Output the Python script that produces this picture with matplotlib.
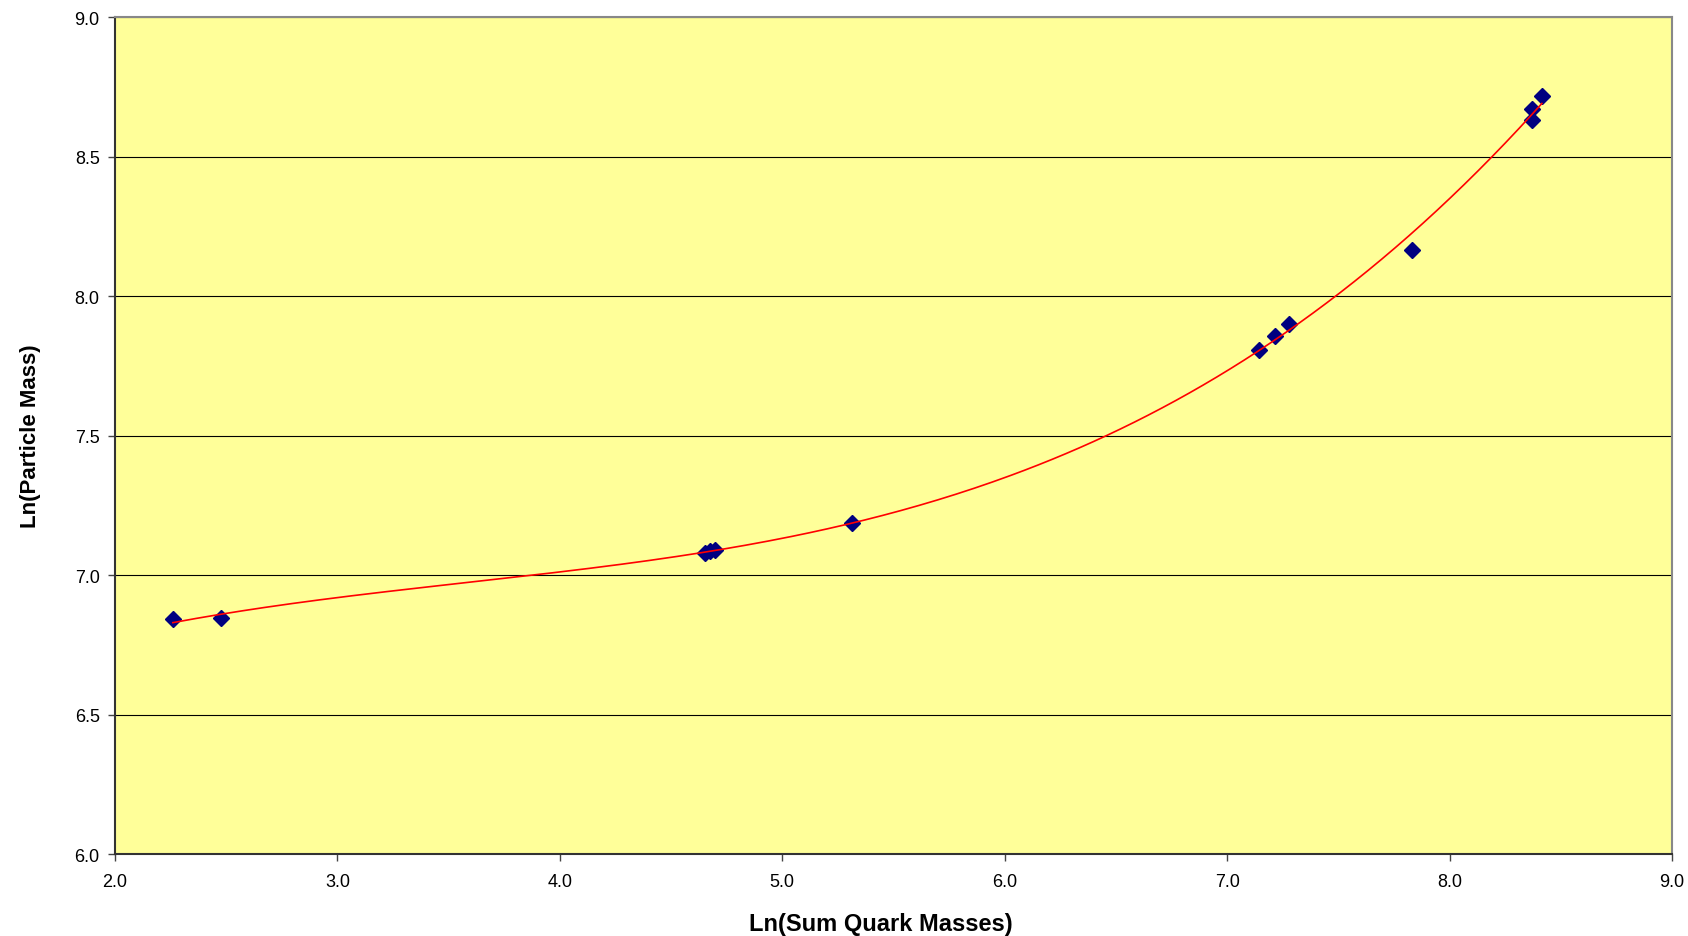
import matplotlib
matplotlib.use('Agg')
import matplotlib.pyplot as plt
import numpy as np

# ln(sum of quark masses) vs ln(particle mass)
ln_quark_sum = [2.26, 2.475, 4.653, 4.675, 4.698, 5.315, 7.141, 7.213, 7.280,
                7.829, 8.372, 8.372, 8.415]
ln_particle_mass = [6.842, 6.845, 7.079, 7.086, 7.090, 7.185, 7.806, 7.856, 7.900,
                    8.165, 8.632, 8.670, 8.716]

x_ticks = [2.0, 3.0, 4.0, 5.0, 6.0, 7.0, 8.0, 9.0]
y_ticks = [6.0, 6.5, 7.0, 7.5, 8.0, 8.5, 9.0]

plt.rcParams['font.family'] = ['Liberation Sans', 'DejaVu Sans']

fig = plt.figure(figsize=(16.88, 9.37), dpi=100)
ax = fig.add_axes([115 / 1688, 1 - 855 / 937, (1672 - 115) / 1688, (855 - 18) / 937])
ax.set_facecolor('#FFFF99')

# polynomial trendline (like Excel), fitted to the data
coef = np.polyfit(ln_quark_sum, ln_particle_mass, 3)
xs = np.linspace(min(ln_quark_sum), max(ln_quark_sum), 300)
ax.plot(xs, np.polyval(coef, xs), color='red', lw=1.2, zorder=3)

ax.plot(ln_quark_sum, ln_particle_mass, linestyle='none', marker='D',
        ms=8, color='#000080', zorder=2)

ax.set_xlim(2.0, 9.0)
ax.set_ylim(6.0, 9.0)
ax.set_xticks(x_ticks)
ax.set_yticks(y_ticks)
ax.set_xticklabels([f'{v:.1f}' for v in x_ticks], fontsize=13)
ax.set_yticklabels([f'{v:.1f}' for v in y_ticks], fontsize=13)
ax.yaxis.grid(True, color='black', lw=0.8)
ax.set_axisbelow(True)
ax.tick_params(direction='out', length=5, width=1, color='#444444', pad=6)
ax.tick_params(axis='x', pad=9)

for side in ['left', 'bottom']:
    ax.spines[side].set_color('#333333')
    ax.spines[side].set_linewidth(1.5)
for side in ['top', 'right']:
    ax.spines[side].set_color('#888888')
    ax.spines[side].set_linewidth(1.5)

ax.set_xlabel('Ln(Sum Quark Masses)', fontsize=17, fontweight='bold')
ax.set_ylabel('Ln(Particle Mass)', fontsize=16, fontweight='bold')
ax.xaxis.set_label_coords(0.492, -0.069)
ax.yaxis.set_label_coords(-0.0475, 0.5)

fig.savefig('out.png', dpi=100)
